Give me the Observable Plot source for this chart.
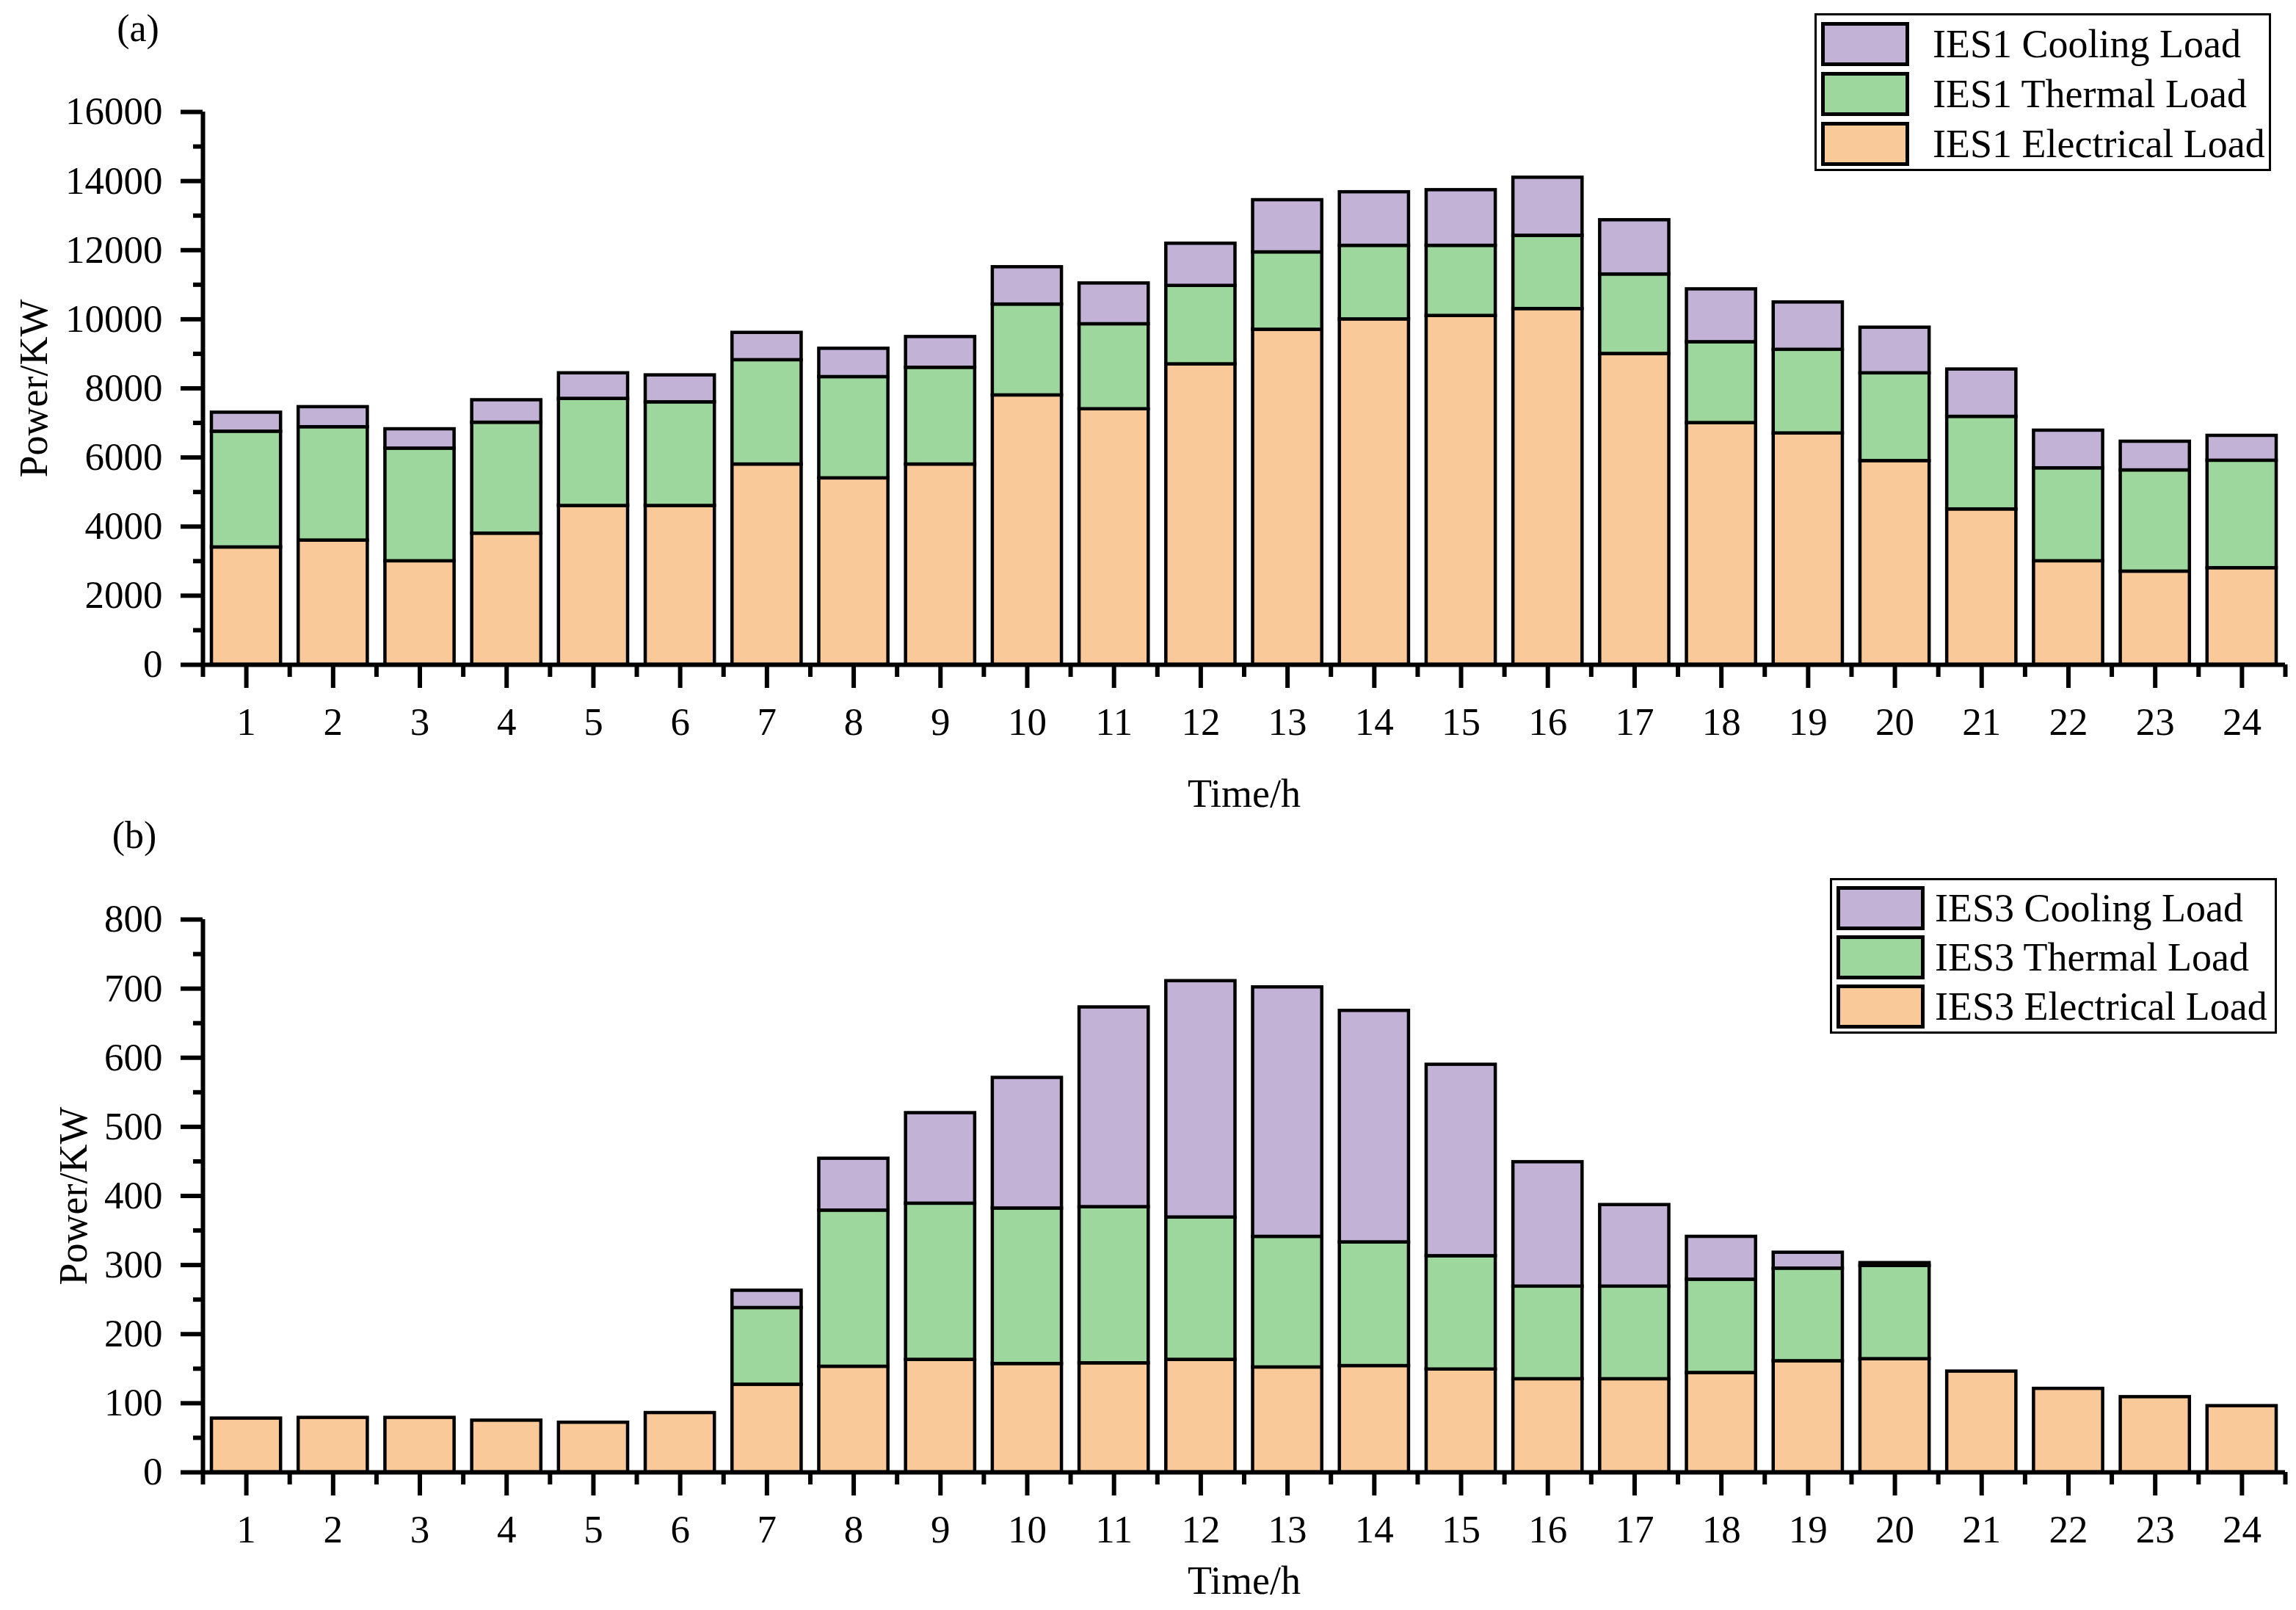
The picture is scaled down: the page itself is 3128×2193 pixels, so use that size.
<!DOCTYPE html>
<html>
<head>
<meta charset="utf-8">
<script src="https://cdn.jsdelivr.net/npm/d3@7"></script>
<script src="https://cdn.jsdelivr.net/npm/@observablehq/plot@0.6"></script>
<style>
  html, body { margin: 0; padding: 0; background: #fff; overflow: hidden; width: 3128px; height: 2193px; }
  #root { position: relative; width: 3128px; height: 2193px; font-family: "Liberation Serif", "Times New Roman", serif; color: #000; }
  .panel { position: absolute; left: 0; }
  .tag { position: absolute; font-size: 52px; transform: translate(-50%, -50%); white-space: nowrap; }
  .legend { position: absolute; border: 3px solid #000; background: #fff; box-sizing: border-box; }
  .row { position: absolute; display: flex; align-items: center; white-space: nowrap; }
  .sw { box-sizing: border-box; width: 120px; height: 60px; border: 5px solid #000; flex: none; }
  .lab { font-size: 54px; line-height: 60px; }
</style>
</head>
<body>
<div id="root"></div>
<script>
// ---------- data ----------
const hours = [1,2,3,4,5,6,7,8,9,10,11,12,13,14,15,16,17,18,19,20,21,22,23,24];

const ies1Names = ["IES1 Electrical Load", "IES1 Thermal Load", "IES1 Cooling Load"];
const ies1Electrical = [3400,3600,3000,3800,4600,4600,5800,5400,5800,7800,7400,8700,9700,10000,10100,10300,9000,7000,6700,5900,4500,3000,2700,2800];
const ies1Thermal    = [3350,3280,3260,3210,3100,3000,3020,2930,2800,2630,2460,2270,2240,2130,2030,2120,2300,2340,2420,2540,2680,2690,2930,3110];
const ies1Cooling    = [550,580,560,650,740,780,790,820,890,1080,1180,1220,1510,1550,1610,1680,1570,1530,1370,1320,1370,1090,830,720];

const ies3Names = ["IES3 Electrical Load", "IES3 Thermal Load", "IES3 Cooling Load"];
const ies3Electrical = [78,79,79,75,72,86,127,153,163,157,158,163,152,154,149,135,135,144,161,164,146,121,109,96];
const ies3Thermal    = [0,0,0,0,0,0,111,226,226,225,226,206,189,179,164,134,134,135,134,135,0,0,0,0];
const ies3Cooling    = [0,0,0,0,0,0,25,75,131,189,289,342,361,335,277,180,118,62,23,4,0,0,0,0];

const ies1YTicks = [0,2000,4000,6000,8000,10000,12000,14000,16000];
const ies1YMinor = [1000,3000,5000,7000,9000,11000,13000,15000];
const ies3YTicks = [0,100,200,300,400,500,600,700,800];
const ies3YMinor = [50,150,250,350,450,550,650,750];

const xTitle = "Time/h";
const yTitle = "Power/KW";

const colors = ["#FAC999", "#9DD79D", "#C2B3D6"]; // electrical, thermal, cooling

// ---------- drawing ----------
const root = document.getElementById("root");
const xDomain = [hours[0] - 0.5, hours[hours.length - 1] + 0.5];
const xBounds = hours.map(h => h - 0.5).concat([xDomain[1]]);

function panel(opts) {
  const {names, E, T, C, yTicks, yMinor, top, height, marginTop, marginBottom, yLabelOffset, xLabelOffset} = opts;
  const series = [E, T, C];
  const rows = [];
  hours.forEach((h, i) => {
    series.forEach((vals, k) => {
      if (vals[i] > 0) rows.push({hour: h, load: names[k], value: vals[i]});
    });
  });
  const yMax = yTicks[yTicks.length - 1];
  const chart = Plot.plot({
    width: 3128,
    height,
    marginLeft: 276,
    marginRight: 15,
    marginTop,
    marginBottom,
    style: {fontFamily: '"Liberation Serif", "Times New Roman", serif', fontSize: "53px", color: "#000", background: "transparent", overflow: "visible"},
    x: {domain: xDomain},
    y: {domain: [0, yMax]},
    color: {domain: names, range: colors},
    marks: [
      Plot.rectY(rows, Plot.stackY({
        x: "hour",
        y: "value",
        x1: d => d.hour - 0.5,
        x2: d => d.hour + 0.5,
        fill: "load",
        stroke: "#000",
        strokeWidth: 4.5,
        insetLeft: 12,
        insetRight: 12
      })),
      Plot.axisX({ticks: xBounds, tickSize: 17, strokeWidth: 6, tickFormat: () => "", label: null}),
      Plot.axisX({ticks: hours, tickSize: 32, tickPadding: 26, strokeWidth: 6, tickFormat: d => String(d), label: null, fontSize: 53}),
      Plot.axisY({ticks: yMinor, tickSize: 13, strokeWidth: 6, tickFormat: () => "", label: null}),
      Plot.axisY({ticks: yTicks, tickSize: 30, tickPadding: 25, strokeWidth: 6, tickFormat: d => String(d), label: null, fontSize: 53}),
      Plot.text([xTitle], {text: d => d, frameAnchor: "bottom", textAnchor: "middle", lineAnchor: "bottom", dy: xLabelOffset, fontSize: 54, fill: "#000"}),
      Plot.text([yTitle], {text: d => d, frameAnchor: "left", textAnchor: "middle", lineAnchor: "top", rotate: -90, dx: -yLabelOffset, fontSize: 54, fill: "#000"}),
      Plot.ruleY([0], {strokeWidth: 6}),
      Plot.ruleX([xDomain[0]], {y1: 0, y2: yMax, strokeWidth: 6})
    ]
  });
  const wrap = document.createElement("div");
  wrap.className = "panel";
  wrap.style.top = top + "px";
  wrap.appendChild(chart);
  root.appendChild(wrap);
}

function legend(names, box) {
  const div = document.createElement("div");
  div.className = "legend";
  Object.assign(div.style, {left: box.left + "px", top: box.top + "px", width: box.width + "px", height: box.height + "px"});
  // top-to-bottom: cooling, thermal, electrical
  [2, 1, 0].forEach((k, r) => {
    const row = document.createElement("div");
    row.className = "row";
    row.style.left = box.swLeft + "px";
    row.style.top = (box.rowTop + r * box.pitch) + "px";
    const sw = document.createElement("div");
    sw.className = "sw";
    sw.style.background = colors[k];
    const lab = document.createElement("div");
    lab.className = "lab";
    lab.style.marginLeft = box.gap + "px";
    lab.textContent = names[k];
    row.appendChild(sw);
    row.appendChild(lab);
    div.appendChild(row);
  });
  root.appendChild(div);
}

function tag(text, x, y) {
  const d = document.createElement("div");
  d.className = "tag";
  d.style.left = x + "px";
  d.style.top = y + "px";
  d.textContent = text;
  root.appendChild(d);
}

panel({names: ies1Names, E: ies1Electrical, T: ies1Thermal, C: ies1Cooling, yTicks: ies1YTicks, yMinor: ies1YMinor,
       top: 0, height: 1120, marginTop: 152, marginBottom: 215, yLabelOffset: 251, xLabelOffset: 193});
panel({names: ies3Names, E: ies3Electrical, T: ies3Thermal, C: ies3Cooling, yTicks: ies3YTicks, yMinor: ies3YMinor,
       top: 1100, height: 1093, marginTop: 152, marginBottom: 188, yLabelOffset: 197, xLabelOffset: 165});

legend(ies1Names, {left: 2472, top: 18, width: 622, height: 215, swLeft: 6, rowTop: 9, pitch: 68, gap: 32});
legend(ies3Names, {left: 2493, top: 1196, width: 609, height: 212, swLeft: 6, rowTop: 8, pitch: 67, gap: 14});

tag("(a)", 188, 38);
tag("(b)", 183, 1137);
</script>
</body>
</html>
